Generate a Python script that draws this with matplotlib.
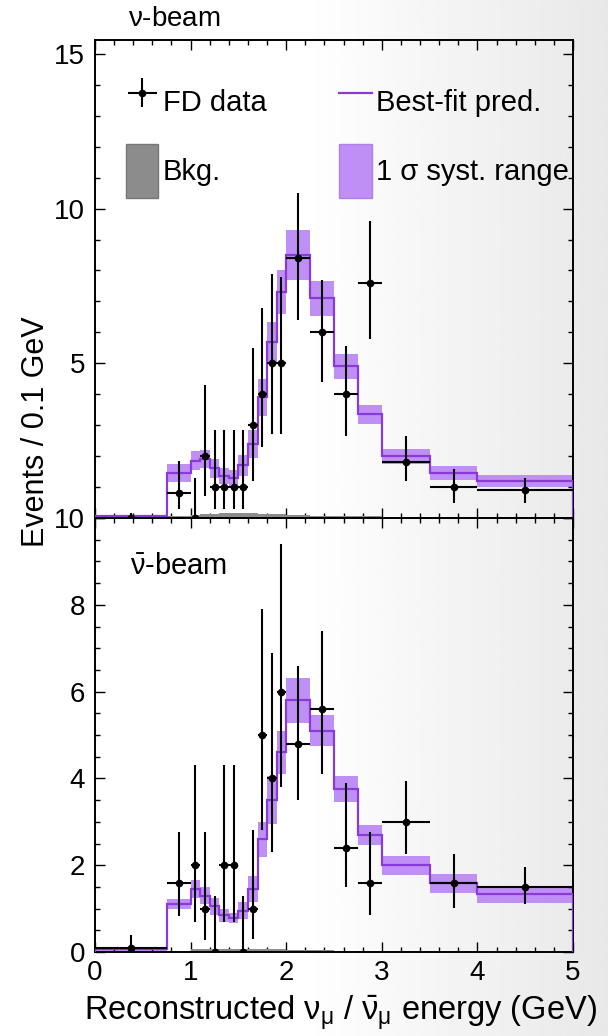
import matplotlib
matplotlib.use("Agg")
import matplotlib.pyplot as plt
from matplotlib.lines import Line2D
from matplotlib.patches import Patch
from matplotlib.ticker import MultipleLocator, FixedFormatter, FixedLocator
import numpy as np

plt.rcParams['font.family'] = ['Liberation Sans', 'DejaVu Sans']
plt.rcParams['mathtext.fontset'] = 'custom'
plt.rcParams['mathtext.rm'] = 'Liberation Sans'
plt.rcParams['mathtext.it'] = 'Liberation Sans:italic'

# Bin edges (GeV), shared by both beams
EDGES = [0, 0.75, 1.0, 1.1, 1.2, 1.3, 1.4, 1.5, 1.6, 1.7, 1.8, 1.9, 2.0,
         2.25, 2.5, 2.75, 3.0, 3.5, 4.0, 5.0]

# neutrino beam
nu_data = [0, 0.8, 0, 2, 1, 1, 1, 1, 3, 4, 5, 5, 8.4, 6, 4, 7.6, 1.8, 1.0, 0.9]
nu_err_lo = [0, 0.52, 0, 1.3, 0.7, 0.7, 0.7, 0.7, 1.8, 1.7, 2.3, 2.3, 2.0, 1.6, 1.35, 1.8, 0.6, 0.5, 0.4]
nu_err_hi = [0.15, 1.05, 1.3, 2.3, 1.85, 1.85, 1.85, 1.85, 2.5, 2.8, 2.9, 2.8, 2.1, 1.7, 1.55, 2.0, 0.85, 0.58, 0.4]
nu_pred = [0.06, 1.45, 1.85, 1.9, 1.6, 1.35, 1.3, 1.7, 2.4, 3.9, 5.7, 7.3, 8.5, 7.1, 4.9, 3.35, 2.0, 1.45, 1.2]
nu_syst = [0.03, 0.3, 0.3, 0.3, 0.3, 0.25, 0.25, 0.35, 0.45, 0.6, 0.65, 0.7, 0.8, 0.57, 0.4, 0.3, 0.24, 0.22, 0.19]
nu_bkg = [0.02, 0.05, 0.1, 0.12, 0.14, 0.15, 0.15, 0.15, 0.15, 0.14, 0.13, 0.12, 0.1, 0.08, 0.06, 0.05, 0.04, 0.03, 0.02]

# antineutrino beam
nubar_data = [0.1, 1.6, 2, 1, 0, 2, 2, 0, 1, 5, 4, 6, 4.8, 5.6, 2.4, 1.6, 3.0, 1.6, 1.5]
nubar_err_lo = [0.1, 0.78, 1.3, 0.72, 0, 1.3, 1.3, 0, 0.7, 2.2, 1.7, 2.2, 1.3, 1.5, 0.9, 0.74, 0.74, 0.58, 0.4]
nubar_err_hi = [0.3, 1.17, 2.3, 1.77, 1.3, 2.3, 2.3, 1.3, 1.8, 2.9, 2.9, 3.4, 1.8, 1.8, 1.5, 1.17, 0.93, 0.66, 0.45]
nubar_pred = [0.07, 1.1, 1.45, 1.3, 1.05, 0.85, 0.78, 0.95, 1.45, 2.6, 3.5, 4.6, 5.8, 5.1, 3.75, 2.7, 2.0, 1.58, 1.33]
nubar_syst = [0.05, 0.12, 0.2, 0.2, 0.2, 0.15, 0.12, 0.2, 0.3, 0.4, 0.55, 0.5, 0.52, 0.35, 0.3, 0.23, 0.22, 0.22, 0.19]
nubar_bkg = [0.01, 0.03, 0.06, 0.07, 0.08, 0.08, 0.08, 0.08, 0.08, 0.07, 0.07, 0.06, 0.05, 0.04, 0.03, 0.03, 0.02, 0.02, 0.01]

BAND_COLOR = '#bf8ff5'
LINE_COLOR = '#8a3ad8'
BKG_COLOR = '#8c8c8c'
TICK_FS = 20


def draw_panel(ax, data, lo, hi, pred, syst, bkg):
    edges = np.array(EDGES)
    centers = 0.5 * (edges[1:] + edges[:-1])
    half = 0.5 * np.diff(edges)
    pred = np.array(pred)
    syst = np.array(syst)
    ax.stairs(pred + syst, edges, baseline=pred - syst, fill=True,
              color=BAND_COLOR, lw=0, zorder=1)
    ax.stairs(bkg, edges, fill=True, color=BKG_COLOR, zorder=2)
    ax.stairs(pred, edges, color=LINE_COLOR, lw=1.6, zorder=3)
    eb = ax.errorbar(centers, data, yerr=[lo, hi], xerr=half, fmt='o',
                     color='black', ms=4.5, elinewidth=1.5, capsize=0, zorder=4)
    ax.set_xlim(0, 5)
    ax.set_facecolor('none')
    ax.xaxis.set_major_locator(MultipleLocator(1))
    ax.xaxis.set_minor_locator(MultipleLocator(0.2))
    ax.tick_params(which='both', direction='in', top=True, right=True,
                   labelsize=TICK_FS, width=1.0)
    ax.tick_params(axis='y', pad=7)
    ax.tick_params(axis='x', pad=6)
    ax.tick_params(which='major', length=7)
    ax.tick_params(which='minor', length=3.5)
    for s in ax.spines.values():
        s.set_linewidth(1.4)
    return eb


fig = plt.figure(figsize=(6.08, 10.36), dpi=100)

# slide background: white fading to light grey at the right
bg = fig.add_axes([0, 0, 1, 1], zorder=-10)
grad = np.clip(1.0 - (np.linspace(0, 1, 300) - 0.5) * 0.18, 0.9, 1.0)
bg.imshow(np.tile(grad, (10, 1)), cmap='gray', vmin=0, vmax=1,
          aspect='auto', extent=[0, 1, 0, 1])
bg.axis('off')

L, W = 95 / 608, 478 / 608
ax1 = fig.add_axes([L, 1 - 518 / 1036, W, 478 / 1036])
ax2 = fig.add_axes([L, 1 - 952 / 1036, W, 434 / 1036])

eb = draw_panel(ax1, nu_data, nu_err_lo, nu_err_hi, nu_pred, nu_syst, nu_bkg)
ax1.set_ylim(0, 15.45)
ax1.yaxis.set_major_locator(FixedLocator([0, 5, 10, 15]))
ax1.yaxis.set_major_formatter(FixedFormatter(['', '5', '10', '15']))
ax1.yaxis.set_minor_locator(MultipleLocator(1))
ax1.tick_params(labelbottom=False)
ax1.text(0.07, 1.043, r'$\mathrm{\nu}$-beam', transform=ax1.transAxes,
         fontsize=20, va='center', ha='left')

draw_panel(ax2, nubar_data, nubar_err_lo, nubar_err_hi, nubar_pred, nubar_syst, nubar_bkg)
ax2.set_ylim(0, 10)
ax2.yaxis.set_major_locator(MultipleLocator(2))
ax2.yaxis.set_minor_locator(MultipleLocator(0.5))
ax2.text(0.073, 0.889, r'$\mathrm{\bar{\nu}}$-beam', transform=ax2.transAxes,
         fontsize=21, va='center', ha='left')

handles = [eb, Patch(facecolor=BKG_COLOR, edgecolor='#777777'),
           Line2D([], [], color=LINE_COLOR, lw=1.6),
           Patch(facecolor=BAND_COLOR, edgecolor='#b07fe8')]
labels = ['FD data', 'Bkg.', 'Best-fit pred.', '1 σ syst. range']
ax1.legend(handles, labels, ncol=2, loc='upper left', bbox_to_anchor=(0.035, 0.958),
           frameon=False, fontsize=21, handlelength=1.1, handleheight=2.5,
           handletextpad=0.15, labelspacing=0.5, columnspacing=2.5, borderpad=0)

fig.text(0.06, 1 - 432 / 1036, 'Events / 0.1 GeV', rotation=90,
         fontsize=22, ha='center', va='center')
fig.text(0.56, 0.022, r'Reconstructed $\mathrm{\nu_{\mu}}$ / $\mathrm{\bar{\nu}_{\mu}}$ energy (GeV)',
         fontsize=23.5, ha='center', va='center')

fig.savefig('out.png', dpi=100)
